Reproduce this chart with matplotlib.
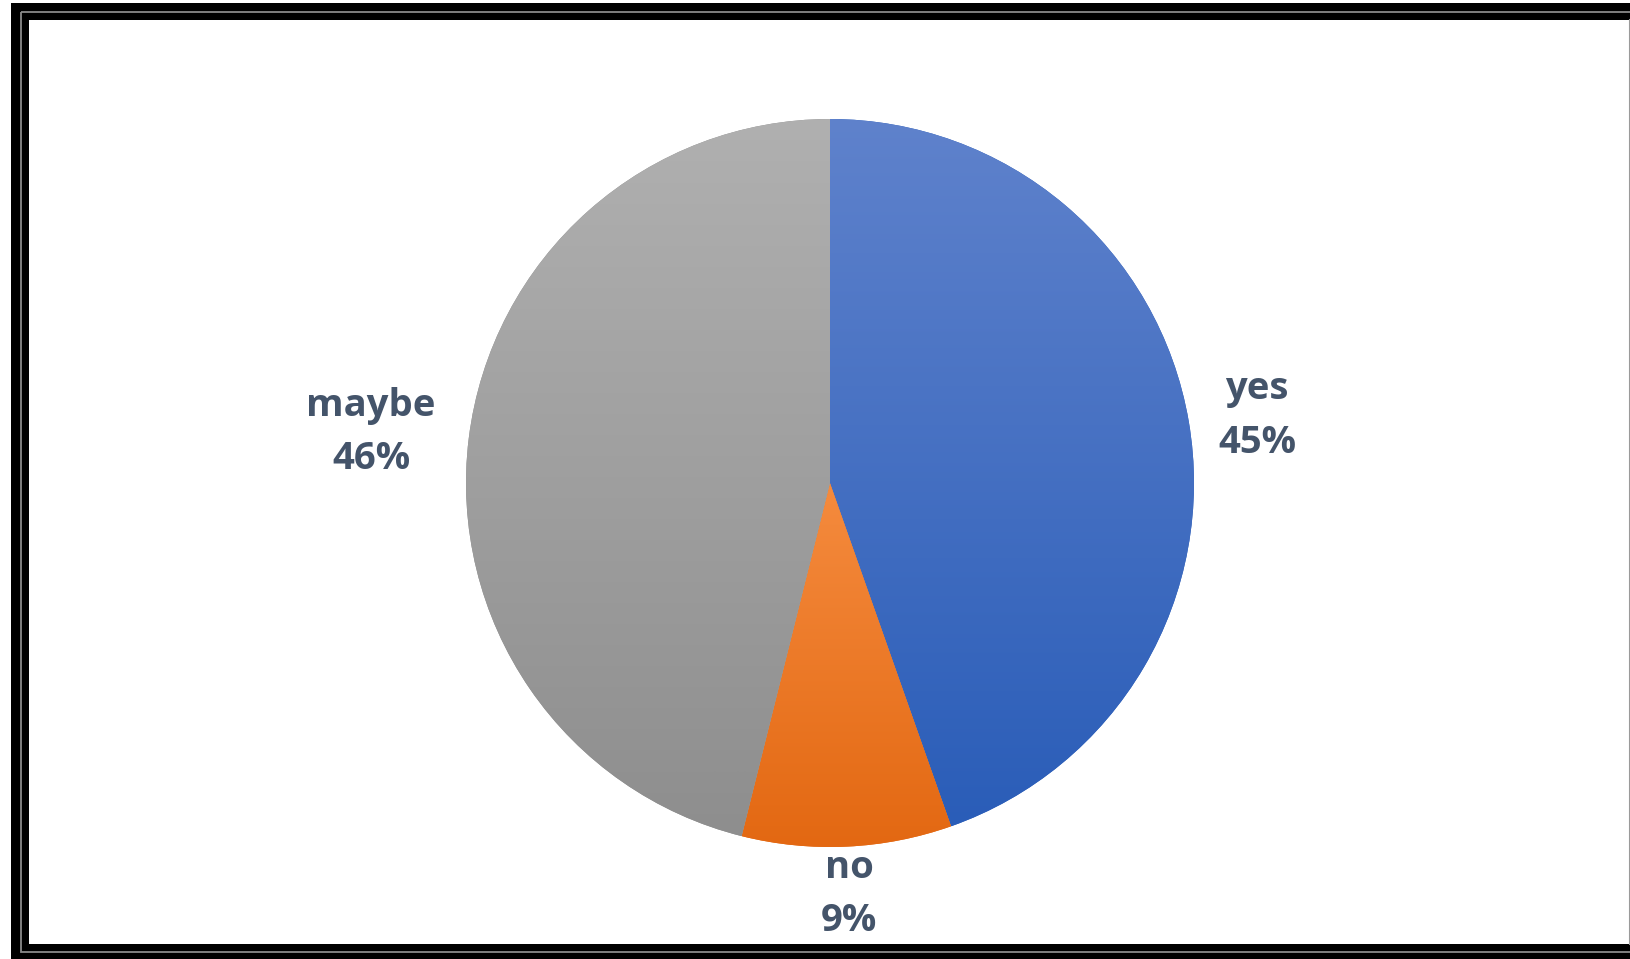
import numpy as np
import matplotlib
matplotlib.use("Agg")
import matplotlib.pyplot as plt
from matplotlib.patches import Rectangle
from matplotlib.colors import LinearSegmentedColormap

# ======================================================
# DATA
# ======================================================
labels = ["yes", "no", "maybe"]
shares = [44.6, 9.3, 46.1]          # slice sizes
shown_pct = [45, 9, 46]             # percentages printed on the chart

# gradient colours per slice (top -> bottom)
TOP_COLORS = ["#5F82CC", "#F58B3E", "#B0B0B0"]
BOT_COLORS = ["#2A5DB8", "#E36812", "#8E8E8E"]
TEXT_COLOR = "#44546A"

# label distance from centre, in radii (Excel "best fit" look)
LABEL_DIST = [1.19, 1.115, 1.27]
LABEL_DROP = 6   # px, text box sits a bit lower than its anchor

W, H = 1631, 959
CX, CY, R = 830, H - 483, 364

fig = plt.figure(figsize=(W / 100, H / 100), dpi=100)

# ======================================================
# FRAME (pixel coords, y down)
# ======================================================
bg = fig.add_axes([0, 0, 1, 1])
bg.set_xlim(0, W)
bg.set_ylim(H, 0)
bg.axis("off")
bg.add_patch(Rectangle((11, 3), W, H, facecolor="black", edgecolor="none"))
bg.add_patch(Rectangle((21, 12), W, 940, fill=False, edgecolor="#8a8a8a", lw=1.3))
bg.add_patch(Rectangle((29, 20), 1600, 924, facecolor="white", edgecolor="none"))
bg.plot([1630, 1630], [20, 944], color="#9a9a9a", lw=1.5)

# ======================================================
# PIE
# ======================================================
ax = fig.add_axes([0, 0, 1, 1])
ax.patch.set_alpha(0)
wedges, _ = ax.pie(shares, center=(CX, CY), radius=R, startangle=90,
                   counterclock=False, frame=True,
                   wedgeprops=dict(linewidth=0))

grad = np.linspace(0, 1, 256).reshape(-1, 1)
for w, c0, c1 in zip(wedges, TOP_COLORS, BOT_COLORS):
    w.set_facecolor(c1)
    ext = w.get_path().get_extents()
    cmap = LinearSegmentedColormap.from_list("g", [c1, c0])
    im = ax.imshow(grad, cmap=cmap, origin="lower", aspect="auto",
                   extent=[ext.x0, ext.x1, ext.y0, ext.y1], zorder=2)
    im.set_clip_path(w)

for w, lab, pct, d in zip(wedges, labels, shown_pct, LABEL_DIST):
    mid = np.deg2rad((w.theta1 + w.theta2) / 2)
    x = CX + d * R * np.cos(mid)
    y = CY + d * R * np.sin(mid) - LABEL_DROP
    ax.text(x, y, f"{lab}\n{pct}%", ha="center", va="center",
            fontsize=27.5, fontweight="bold", family=["Open Sans", "DejaVu Sans"],
            color=TEXT_COLOR, linespacing=1.54, zorder=3)

ax.set_xlim(0, W)
ax.set_ylim(0, H)
ax.set_aspect("auto")
ax.axis("off")

fig.savefig("out.png", dpi=100)
